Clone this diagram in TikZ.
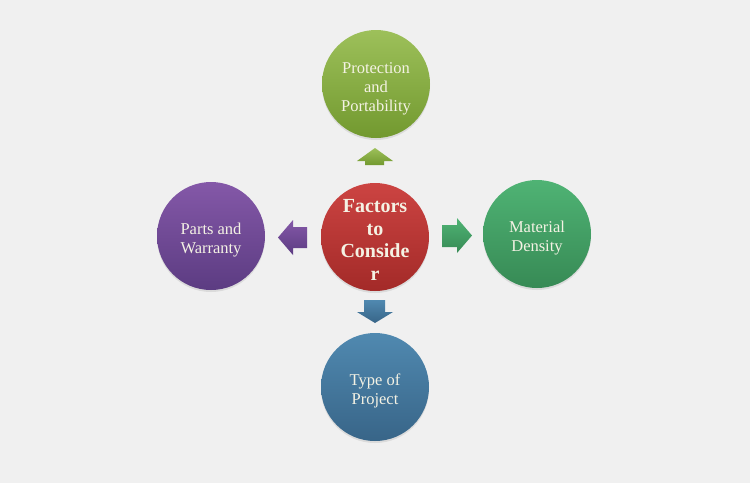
\documentclass[tikz,border=0pt]{standalone}
\usepackage{fontspec}
\setmainfont{Liberation Serif}
\usetikzlibrary{shadows}
\definecolor{bg}{HTML}{F0F0F0}
\definecolor{redT}{HTML}{CC4442}\definecolor{redB}{HTML}{A32A28}
\definecolor{lgT}{HTML}{9DC05A}\definecolor{lgB}{HTML}{72992F}
\definecolor{dgT}{HTML}{4FB374}\definecolor{dgB}{HTML}{378A55}
\definecolor{puT}{HTML}{8458A8}\definecolor{puB}{HTML}{5C3C82}
\definecolor{blT}{HTML}{5089B0}\definecolor{blB}{HTML}{386588}
\definecolor{txt}{HTML}{F4F2E4}
\tikzset{
  circ/.style={circle, minimum size=108pt, inner sep=0pt,
    drop shadow={shadow xshift=0pt, shadow yshift=-2pt, opacity=0.18}},
  lbl/.style={align=center, inner sep=0pt, text=txt, font=\fontsize{16.5}{19}\selectfont},
  ctrlbl/.style={lbl, font=\bfseries\fontsize{20}{22.5}\selectfont},
  arr/.style={draw=none}
}
\begin{document}
\begin{tikzpicture}[x=1pt,y=-1pt]
\useasboundingbox[fill=bg] (0,0) rectangle (750,483);
% circles
\node[circ, top color=redT, bottom color=redB] (c) at (375,237) {};
\node[circ, top color=lgT, bottom color=lgB] (t) at (376,84) {};
\node[circ, top color=puT, bottom color=puB] (l) at (211,236) {};
\node[circ, top color=dgT, bottom color=dgB] (r) at (537,234) {};
\node[circ, top color=blT, bottom color=blB] (b) at (375,387) {};
% labels
\node[ctrlbl] (ct) at (375,240) {Factors\\to\\Conside\\r};
\node[lbl] (tt) at (376,88.5) {Protection\\and\\Portability};
\node[lbl] (lt) at (211,240.5) {Parts and\\Warranty};
\node[lbl] (rt) at (537,238) {Material\\Density};
\node[lbl] (bt) at (375,390.5) {Type of\\Project};
% arrows
\path[arr, top color=lgT, bottom color=lgB]
  (365,165) -- (384,165) -- (384,161) -- (393,161) -- (375,148) -- (357,161) -- (365,161) -- cycle;
\path[arr, top color=puT, bottom color=puB]
  (307,227) -- (293,227) -- (293,220) -- (278,237.5) -- (293,255) -- (293,248) -- (307,248) -- cycle;
\path[arr, top color=dgT, bottom color=dgB]
  (442,225) -- (457,225) -- (457,218) -- (472,235.5) -- (457,253) -- (457,247) -- (442,247) -- cycle;
\path[arr, top color=blT, bottom color=blB]
  (364,300) -- (385,300) -- (385,312) -- (393,312) -- (375,323) -- (357,312) -- (364,312) -- cycle;
\end{tikzpicture}
\end{document}
